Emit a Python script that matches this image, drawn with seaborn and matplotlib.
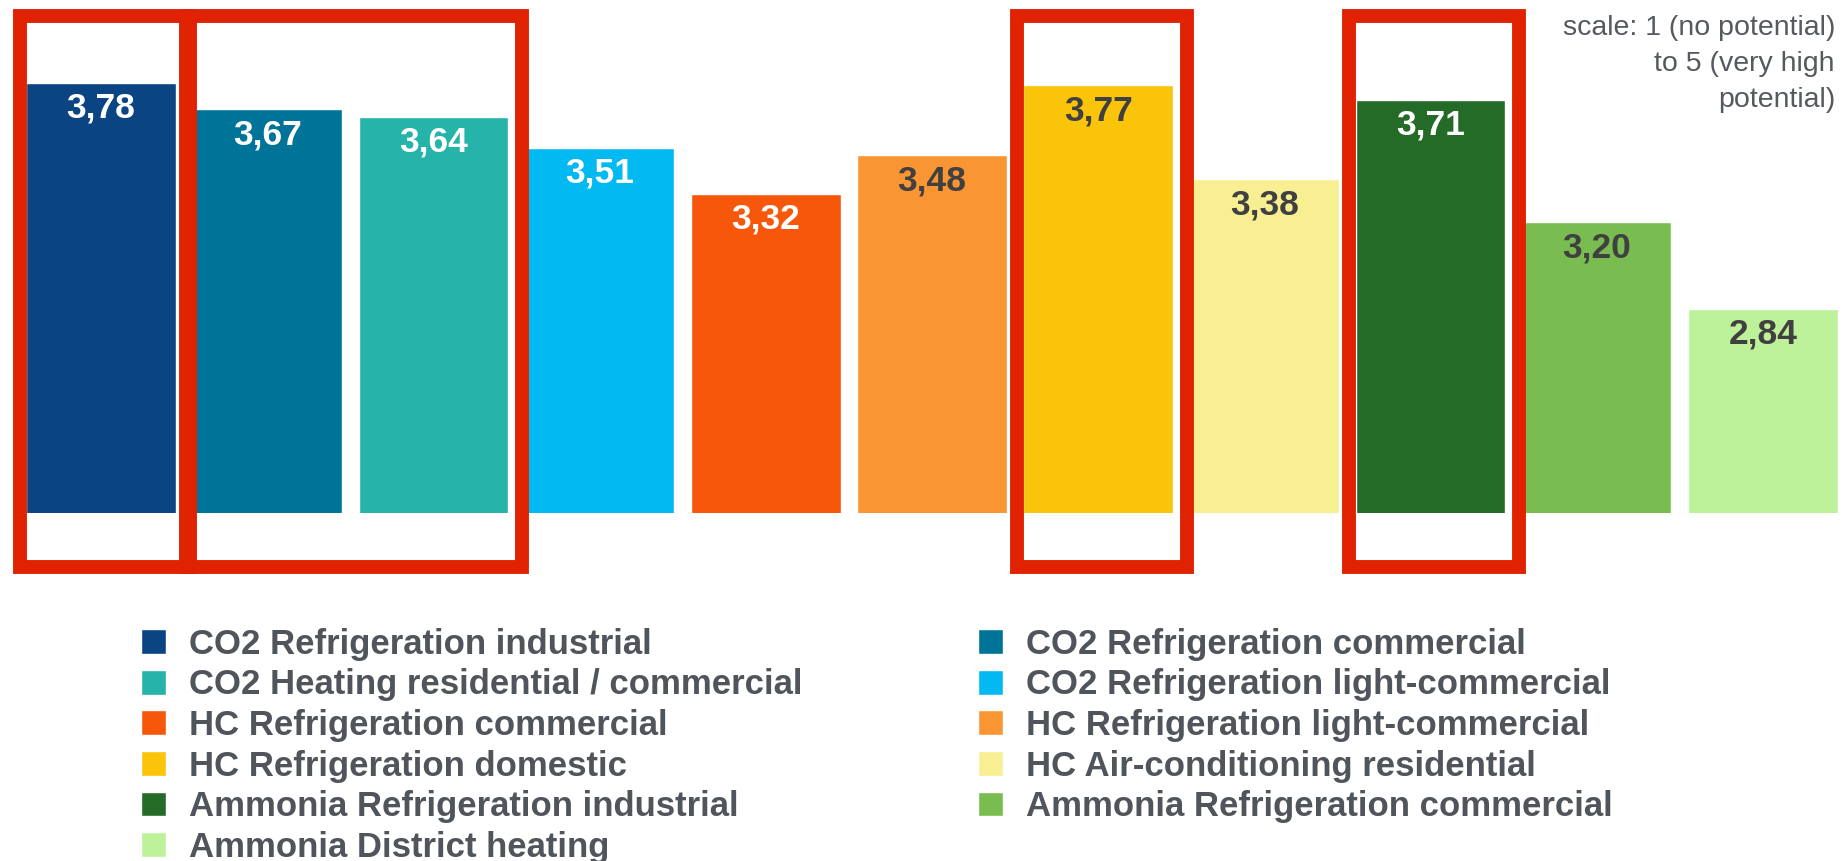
import matplotlib
matplotlib.use("Agg")
import matplotlib.pyplot as plt
from matplotlib.patches import Patch, Rectangle
import seaborn as sns

# data
categories = ["CO2 Refrigeration industrial", "CO2 Refrigeration commercial",
              "CO2 Heating residential / commercial", "CO2 Refrigeration light-commercial",
              "HC Refrigeration commercial", "HC Refrigeration light-commercial",
              "HC Refrigeration domestic", "HC Air-conditioning residential",
              "Ammonia Refrigeration industrial", "Ammonia Refrigeration commercial",
              "Ammonia District heating"]
values = [3.78, 3.67, 3.64, 3.51, 3.32, 3.48, 3.77, 3.38, 3.71, 3.20, 2.84]
colors = ["#0B4483", "#007398", "#26B3A9", "#03B9F2", "#F7570A", "#F99532",
          "#FAC40A", "#F8EF92", "#256B28", "#79BC4F", "#BDF29A"]
dark_label = [False, False, False, False, False, True, True, True, False, True, True]
# highlighted groups (first bar index, last bar index)
highlights = [(0, 0), (1, 2), (6, 6), (8, 8)]

sns.set_style("white")
plt.rcParams["font.family"] = ["Liberation Sans", "DejaVu Sans"]

fig = plt.figure(figsize=(18.48, 8.61), dpi=100)
ax = fig.add_axes([0.0097, 0.4042, 0.9892, 0.5958])

sns.barplot(x=categories, y=values, hue=categories, palette=colors, legend=False,
            saturation=1, width=0.9, ax=ax)
ax.set_ylim(1.991, 4.125)
ax.set_xlim(-0.5, len(values) - 0.5)
ax.axis("off")

# value labels inside bar tops
for bar, v, dk in zip(ax.patches, values, dark_label):
    ax.annotate(f"{v:.2f}".replace(".", ","), (bar.get_x() + bar.get_width() / 2, v),
                xytext=(0, -9), textcoords="offset pixels", ha="center", va="top",
                fontsize=25.5, fontweight="bold",
                color="#404040" if dk else "white")

# red highlight frames
for a, b in highlights:
    ax.add_patch(Rectangle((a - 0.49, 1.766), (b + 0.535) - (a - 0.49), 4.06 - 1.766,
                           fill=False, edgecolor="#E02200", lw=10, joinstyle="miter",
                           clip_on=False, zorder=5))

ax.text(0.994, 0.971, "scale: 1 (no potential)\nto 5 (very high\npotential)",
        transform=ax.transAxes, ha="right", va="top", fontsize=20.5,
        color="#555A60", linespacing=1.5)

handles = [Patch(facecolor=c, label=n) for c, n in zip(colors, categories)]
order = list(range(0, len(handles), 2)) + list(range(1, len(handles), 2))
fig.legend([handles[i] for i in order], [categories[i] for i in order],
           loc="upper left", bbox_to_anchor=(0.0763, 0.271), ncol=2,
           frameon=False, borderpad=0, borderaxespad=0,
           prop={"weight": "bold", "size": 25}, labelcolor="#50555C",
           handlelength=0.72, handleheight=0.72, handletextpad=0.66,
           columnspacing=5.07, labelspacing=0.22)

fig.savefig("out.png", dpi=100)
